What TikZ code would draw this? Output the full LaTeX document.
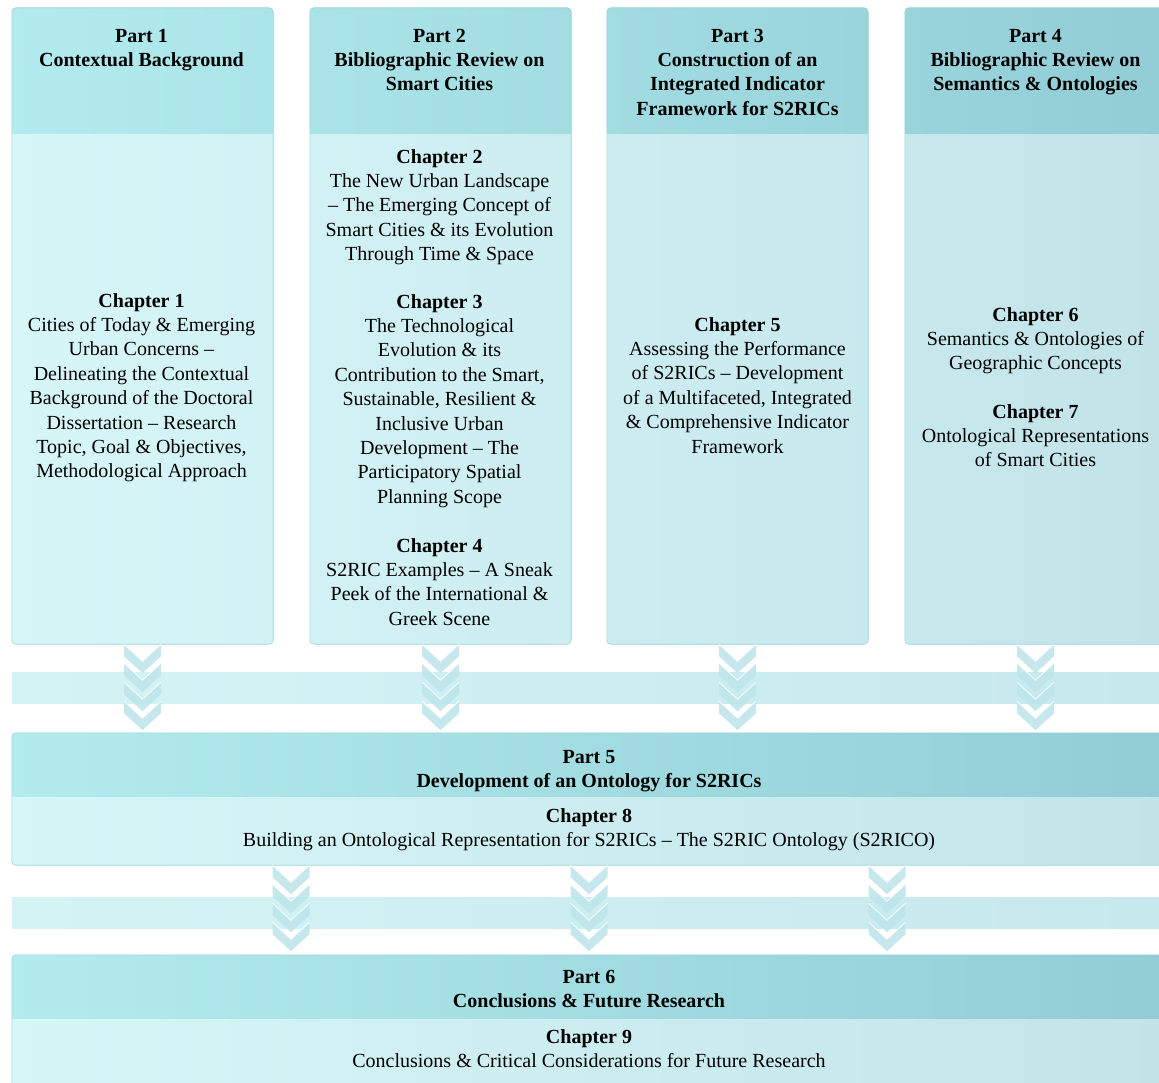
\documentclass[tikz,border=0pt]{standalone}
\usepackage{fontspec}
\setmainfont{Liberation Serif}
\usetikzlibrary{calc}

% colour ramps running left to right across the whole figure
\definecolor{hdrL}{HTML}{B2ECEE}
\definecolor{hdrR}{HTML}{92CDD6}
\definecolor{bodL}{HTML}{D7F6F8}
\definecolor{bodR}{HTML}{C2E4E9}
\definecolor{bandL}{HTML}{D4F3F5}
\definecolor{bandR}{HTML}{C6E9ED}
\definecolor{chevfill}{HTML}{BDE5EA}
\definecolor{edgecol}{HTML}{9AD2D9}

\tikzset{
  panelbox/.style={rectangle, rounded corners=4pt, inner sep=0pt},
  paneledge/.style={draw=edgecol, line width=0.6pt, rounded corners=4pt},
  txt/.style={anchor=north, inner sep=0pt, align=center, text=black,
              font=\fontsize{20}{24.4}\selectfont},
  btxt/.style={txt, font=\fontsize{20}{24.4}\selectfont\bfseries},
  band/.style={left color=bandL, right color=bandR},
  chev/.style={fill=chevfill, fill opacity=0.85},
  chevline/.style={draw=white, draw opacity=0.85, line width=0.9pt},
  chevs/.pic={
    \foreach \i in {0,...,3}{
      \path[chev] (-18.5,19*\i) -- (0,19*\i+17) -- (18.5,19*\i) -- (18.5,19*\i+12)
                  -- (0,19*\i+29) -- (-18.5,19*\i+12) -- cycle;
      \path[chevline] (-18.5,19*\i) -- (0,19*\i+17) -- (18.5,19*\i);
    }
  }
}

% #1 name, #2 x1, #3 y1, #4 x2, #5 y2, #6 header bottom, #7/#8 ramp percentages
\newcommand\tpanel[8]{%
  \colorlet{tmpbl}{bodR!#7!bodL}\colorlet{tmpbr}{bodR!#8!bodL}%
  \colorlet{tmphl}{hdrR!#7!hdrL}\colorlet{tmphr}{hdrR!#8!hdrL}%
  \node[panelbox, left color=tmpbl, right color=tmpbr,
        minimum width=#4-#2, minimum height=#5-#3]
        (#1) at ({(#2+#4)/2},{(#3+#5)/2}) {};
  \begin{scope}
    \clip[rounded corners=4pt] (#1.north west) rectangle (#1.south east);
    \shade[left color=tmphl, right color=tmphr] (#1.north west) rectangle (#1.east |- 0,#6);
  \end{scope}
  \draw[paneledge] (#1.north west) rectangle (#1.south east);
}

\begin{document}
\begin{tikzpicture}[x=1pt, y=-1pt]
\useasboundingbox (0,0) rectangle (1159,1083);
\clip (0,0) rectangle (1159,1083);
\fill[white] (0,0) rectangle (1159,1083);

% horizontal bands behind the chevrons
\shade[band] (12,672) rectangle (1166,703);
\shade[band] (12,897) rectangle (1166,928);

% the four parts of the upper row
\tpanel{c1}{12}{8}{273}{644}{134}{1}{24}
\tpanel{c2}{310}{8}{571}{644}{134}{27}{49}
\tpanel{c3}{607}{8}{868}{644}{134}{52}{75}
\tpanel{c4}{905}{8}{1166}{644}{134}{78}{100}
% parts 5 and 6
\tpanel{p5}{12}{733}{1166}{865}{796}{1}{100}
\tpanel{p6}{12}{955}{1166}{1100}{1018}{1}{100}

% chevron connectors
\pic at (c1.south) {chevs};
\pic at (c2.south) {chevs};
\pic at (c3.south) {chevs};
\pic at (c4.south) {chevs};
\pic at ($(p5.south)+(-298,0)$) {chevs};
\pic at (p5.south) {chevs};
\pic at ($(p5.south)+(298,0)$) {chevs};

% headers
\node[btxt] (h1) at (141.5,24.9) {\strut Part 1\\Contextual Background};
\node[btxt] (h2) at (439.5,24.9) {\strut Part 2\\Bibliographic Review on\\Smart Cities};
\node[btxt] (h3) at (737.5,24.9) {\strut Part 3\\Construction of an\\Integrated Indicator\\Framework for S2RICs};
\node[btxt] (h4) at (1035.5,24.9) {\strut Part 4\\Bibliographic Review on\\Semantics \& Ontologies};
\node[btxt] (h5) at (589,745.9) {\strut Part 5\\Development of an Ontology for S2RICs};
\node[btxt] (h6) at (589,965.9) {\strut Part 6\\Conclusions \& Future Research};

% chapters
\node[txt] (ch1) at (141.5,289.9) {\strut\textbf{Chapter 1}\\Cities of Today \& Emerging\\Urban Concerns –\\Delineating the Contextual\\Background of the Doctoral\\Dissertation – Research\\Topic, Goal \& Objectives,\\Methodological Approach};
\node[txt] (ch2) at (439.5,145.9) {\strut\textbf{Chapter 2}\\The New Urban Landscape\\– The Emerging Concept of\\Smart Cities \& its Evolution\\Through Time \& Space};
\node[txt] (ch3) at (439.5,290.9) {\strut\textbf{Chapter 3}\\The Technological\\Evolution \& its\\Contribution to the Smart,\\Sustainable, Resilient \&\\Inclusive Urban\\Development – The\\Participatory Spatial\\Planning Scope};
\node[txt] (ch4) at (439.5,534.9) {\strut\textbf{Chapter 4}\\S2RIC Examples – A Sneak\\Peek of the International \&\\Greek Scene};
\node[txt] (ch5) at (737.5,313.9) {\strut\textbf{Chapter 5}\\Assessing the Performance\\of S2RICs – Development\\of a Multifaceted, Integrated\\\& Comprehensive Indicator\\Framework};
\node[txt] (ch6) at (1035.5,303.9) {\strut\textbf{Chapter 6}\\Semantics \& Ontologies of\\Geographic Concepts};
\node[txt] (ch7) at (1035.5,400.9) {\strut\textbf{Chapter 7}\\Ontological Representations\\of Smart Cities};
\node[txt] (ch8) at (589,804.9) {\strut\textbf{Chapter 8}\\Building an Ontological Representation for S2RICs – The S2RIC Ontology (S2RICO)};
\node[txt] (ch9) at (589,1025.9) {\strut\textbf{Chapter 9}\\Conclusions \& Critical Considerations for Future Research};
\end{tikzpicture}
\end{document}
